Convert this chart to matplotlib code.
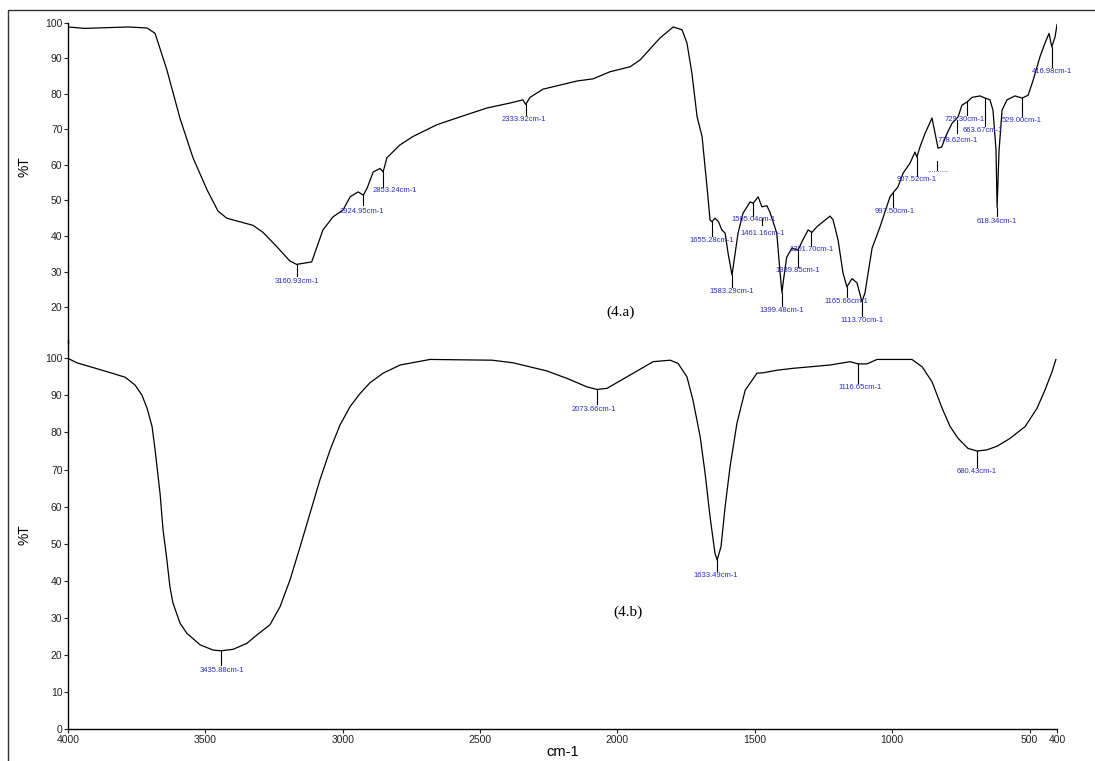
import matplotlib
matplotlib.use("Agg")
import matplotlib.pyplot as plt
from matplotlib.lines import Line2D

plt.rcParams['font.family'] = ['Liberation Sans', 'DejaVu Sans']

# ---- spectrum (4.a), wavenumber vs %T ----
wn_a = [4000, 3940, 3860, 3780, 3712, 3683, 3640, 3592, 3545, 3494, 3454, 3422,
        3327, 3290, 3240, 3193, 3168, 3113, 3072, 3035, 2999, 2973, 2944, 2925,
        2911, 2889, 2864, 2853, 2839, 2792, 2744, 2657, 2573, 2475, 2391, 2344,
        2334, 2318, 2271, 2147, 2089, 2027, 1954, 1918, 1845, 1797, 1765, 1747,
        1729, 1710, 1692, 1674, 1663, 1656, 1645, 1632, 1620, 1608, 1597, 1583,
        1572, 1561, 1543, 1517, 1506, 1488, 1474, 1456, 1445, 1420, 1408, 1401,
        1397, 1384, 1365, 1343, 1325, 1306, 1292, 1274, 1226, 1215, 1197, 1179,
        1165, 1146, 1128, 1110, 1099, 1073, 1044, 1008, 997, 979, 960, 935, 917,
        910, 899, 880, 855, 844, 833, 820, 800, 782, 771, 760, 746, 727, 709,
        680, 662, 644, 633, 622, 618, 611, 600, 582, 553, 527, 505, 487, 462,
        444, 429, 419, 407, 400]
t_a = [98.8, 98.4, 98.6, 98.8, 98.5, 97.0, 86.7, 73.0, 62.0, 53.0, 47.0, 45.0,
       43.0, 41.0, 37.0, 33.0, 32.0, 32.7, 41.7, 45.4, 47.3, 51.0, 52.4, 51.5,
       53.5, 58.0, 59.0, 58.0, 62.0, 65.6, 68.0, 71.3, 73.5, 76.0, 77.4, 78.3,
       77.0, 79.0, 81.3, 83.6, 84.2, 86.2, 87.6, 89.5, 95.7, 98.8, 98.0, 94.3,
       85.8, 73.5, 68.0, 53.8, 44.5, 44.0, 45.0, 44.0, 41.7, 40.8, 35.0, 29.0,
       35.0, 40.8, 46.4, 49.6, 49.2, 51.0, 48.2, 48.5, 46.7, 40.8, 29.6, 24.0,
       26.8, 34.0, 36.6, 36.0, 38.9, 41.7, 41.0, 42.6, 45.6, 44.5, 38.9, 29.6,
       25.7, 28.0, 26.8, 21.5, 24.0, 36.6, 42.6, 51.0, 52.1, 53.8, 57.7, 60.5,
       63.6, 62.2, 65.0, 68.9, 73.2, 68.9, 64.7, 65.0, 68.9, 71.7, 72.6, 73.5,
       76.8, 77.7, 79.0, 79.4, 78.8, 78.3, 75.4, 64.2, 48.0, 64.0, 75.4, 78.3,
       79.4, 78.8, 79.6, 83.8, 90.4, 94.2, 97.0, 93.2, 96.0, 99.5]

# ---- spectrum (4.b) ----
wn_b = [4000, 3968, 3858, 3792, 3756, 3731, 3712, 3694, 3683, 3665, 3654, 3640,
        3629, 3618, 3592, 3567, 3519, 3472, 3443, 3399, 3349, 3312, 3265, 3228,
        3192, 3155, 3119, 3083, 3046, 3010, 2973, 2937, 2901, 2853, 2791, 2682,
        2457, 2380, 2257, 2184, 2111, 2074, 2038, 1954, 1870, 1808, 1779, 1747,
        1725, 1699, 1681, 1663, 1645, 1637, 1623, 1608, 1590, 1565, 1535, 1492,
        1470, 1419, 1361, 1226, 1153, 1124, 1092, 1055, 928, 891, 855, 818, 789,
        760, 724, 691, 655, 618, 571, 516, 473, 444, 418, 404]
t_b = [100.0, 98.8, 96.4, 94.9, 92.8, 90.1, 86.5, 81.6, 75.3, 63.6, 53.7, 45.6,
       38.4, 34.0, 28.5, 25.8, 22.7, 21.3, 21.1, 21.5, 23.1, 25.4, 28.1, 33.0,
       40.2, 49.2, 58.2, 67.2, 75.3, 82.0, 87.0, 90.5, 93.4, 96.0, 98.2, 99.7,
       99.5, 98.8, 96.6, 94.6, 92.3, 91.6, 91.9, 95.5, 99.1, 99.5, 98.6, 95.0,
       88.7, 78.9, 69.0, 57.3, 47.4, 45.6, 49.2, 60.0, 70.8, 82.5, 91.4, 96.0,
       96.1, 96.8, 97.3, 98.2, 99.1, 98.5, 98.5, 99.7, 99.7, 97.7, 93.7, 86.5,
       81.6, 78.4, 75.7, 75.0, 75.3, 76.3, 78.4, 81.6, 86.5, 91.4, 96.4, 99.7]

# peak labels: text, x of text, y of text centre, x of tick, tick top, tick bottom
lab_a = ["3160.93cm-1", "2924.95cm-1", "2853.24cm-1", "2333.92cm-1",
         "1655.28cm-1", "1583.29cm-1", "1505.04cm-1", "1461.16cm-1",
         "1399.48cm-1", "1339.85cm-1", "1301.70cm-1", "1165.66cm-1",
         "1113.70cm-1", "997.50cm-1", "907.52cm-1", "..........",
         "778.62cm-1", "729.30cm-1", "663.67cm-1", "618.34cm-1",
         "529.00cm-1", "416.98cm-1"]
lab_a_x = [3168, 2930, 2810, 2340, 1656, 1583, 1506, 1470, 1401, 1343, 1292,
           1165, 1110, 990, 912, 835, 760, 735, 669, 618, 527, 419]
lab_a_y = [27.1, 47.0, 52.7, 72.9, 38.6, 24.3, 44.5, 40.6, 19.0, 30.2, 36.1,
           21.5, 16.2, 47.0, 55.8, 58.4, 66.8, 72.9, 69.6, 44.2, 72.6, 86.4]
tick_a_x = [3168, 2925, 2853, 2334, 1656, 1583, 1506, 1474, 1401, 1343, 1295,
            1166, 1110, 997, 910, 837, 764, 727, 663, 618, 527, 419]
tick_a_top = [32.0, 51.5, 58.0, 77.0, 44.0, 29.0, 49.2, 45.0, 24.0, 36.0, 41.0,
              25.7, 21.5, 52.1, 62.2, 61.0, 72.6, 77.7, 78.8, 48.0, 78.8, 93.2]
tick_a_bot = [28.8, 48.6, 53.8, 74.1, 39.9, 25.6, 45.7, 43.2, 20.3, 31.4, 37.3,
              22.7, 17.4, 48.2, 57.0, 58.6, 68.9, 74.0, 70.9, 45.5, 73.8, 87.6]

lab_b = ["3435.88cm-1", "2073.66cm-1", "1633.49cm-1", "1116.65cm-1", "680.43cm-1"]
lab_b_x = [3440, 2085, 1641, 1117, 691]
lab_b_y = [15.9, 86.3, 41.3, 92.0, 69.4]
tick_b_x = [3443, 2074, 1637, 1124, 691]
tick_b_top = [21.1, 91.6, 45.6, 98.5, 75.0]
tick_b_bot = [17.2, 87.6, 42.6, 93.3, 70.7]

xticks = [4000, 3500, 3000, 2500, 2000, 1500, 1000, 500, 400]
blue = '#2b2bc4'

fig = plt.figure(figsize=(10.95, 7.61), dpi=100)

# frame of the picture (left and top only)
fig.add_artist(Line2D([8 / 1095, 8 / 1095, 1.0], [0.0, 1 - 10 / 761, 1 - 10 / 761],
                      transform=fig.transFigure, color='#333333', lw=1.0))

ax_a = fig.add_axes([68 / 1095, 1 - 342.6 / 761, 989 / 1095, 319.9 / 761])
ax_b = fig.add_axes([68 / 1095, 1 - 729 / 761, 989 / 1095, 389.2 / 761])

for ax in (ax_a, ax_b):
    ax.set_xlim(4000, 400)
    ax.patch.set_alpha(0)
    for s in ('top', 'right'):
        ax.spines[s].set_visible(False)
    ax.spines['left'].set_linewidth(1.0)
    ax.tick_params(axis='both', direction='out', length=3, width=0.8,
                   labelsize=7.5, pad=1, colors='#222222')
    ax.set_ylabel('%T', fontsize=10)

# ---- (4.a) ----
ax_a.plot(wn_a, t_a, color='black', lw=0.9)
ax_a.set_ylim(10, 100)
ax_a.set_yticks(range(20, 101, 10))
ax_a.spines['bottom'].set_visible(False)
ax_a.set_xticks([])
for i in range(len(lab_a)):
    ax_a.plot([tick_a_x[i], tick_a_x[i]], [tick_a_top[i], tick_a_bot[i]],
              color='black', lw=0.8)
    ax_a.text(lab_a_x[i], lab_a_y[i], lab_a[i], color=blue, fontsize=5.5,
              ha='center', va='center')
ax_a.text(1990, 18.5, '(4.a)', family='Liberation Serif', fontsize=11,
          ha='center', va='center')
ax_a.yaxis.set_label_coords(-0.037, 0.55)

# ---- (4.b) ----
ax_b.plot(wn_b, t_b, color='black', lw=0.9)
ax_b.set_ylim(0, 105)
ax_b.set_yticks(range(0, 101, 10))
ax_b.set_xticks(xticks)
ax_b.set_xticklabels([str(v) for v in xticks])
ax_b.spines['bottom'].set_linewidth(1.0)
for i in range(len(lab_b)):
    ax_b.plot([tick_b_x[i], tick_b_x[i]], [tick_b_top[i], tick_b_bot[i]],
              color='black', lw=0.8)
    ax_b.text(lab_b_x[i], lab_b_y[i], lab_b[i], color=blue, fontsize=5.5,
              ha='center', va='center')
ax_b.text(1960, 31.5, '(4.b)', family='Liberation Serif', fontsize=11,
          ha='center', va='center')
ax_b.set_xlabel('cm-1', fontsize=10.5, labelpad=0)
ax_b.yaxis.set_label_coords(-0.037, 0.5)

fig.savefig('out.png', dpi=100)
